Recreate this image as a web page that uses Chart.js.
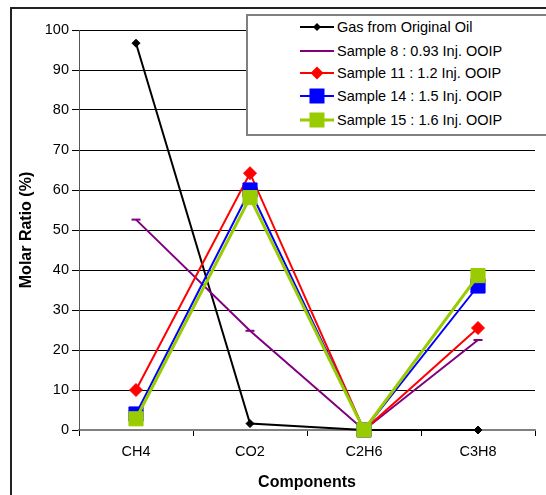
<!DOCTYPE html>
<html>
<head>
<meta charset="utf-8">
<script src="https://cdn.jsdelivr.net/npm/chart.js@4/dist/chart.umd.min.js"></script>
<style>
  html, body { margin: 0; padding: 0; background: #fff; overflow: hidden; }
  #wrap { position: relative; width: 546px; height: 495px; overflow: hidden; }
  #frame { position: absolute; left: 10px; top: 7px; width: 600px; height: 600px; border-left: 2px solid #222; border-top: 2px solid #222; box-sizing: border-box; }
  canvas { position: absolute; left: 0; top: 0; }
  #legend { position: absolute; left: 246px; top: 14px; width: 320px; height: 122px; border: 2px solid #808080; background: #fff; box-sizing: border-box; font-family: "Liberation Sans", Arial, sans-serif; font-size: 14.5px; color: #000; }
  .row { position: absolute; left: 52px; height: 18px; display: flex; align-items: center; white-space: nowrap; }
  .row svg { margin-right: 3px; flex: none; }
</style>
</head>
<body>
<div id="wrap">
  <div id="frame"></div>
  <canvas id="c" width="546" height="495"></canvas>
  <div id="legend"></div>
</div>
<script>
const categories = ["CH4", "CO2", "C2H6", "C3H8"];
const seriesNames = [
  "Gas from Original Oil",
  "Sample 8 : 0.93 Inj. OOIP",
  "Sample 11 : 1.2 Inj. OOIP",
  "Sample 14 : 1.5 Inj. OOIP",
  "Sample 15 : 1.6 Inj. OOIP"
];
const gasOriginal = [96.7, 1.6, 0, 0];
const sample8 = [52.6, 24.8, 0, 22.5];
const sample11 = [10, 64.2, 0, 25.5];
const sample14 = [4, 60, 0, 36];
const sample15 = [2.8, 58.1, 0, 38.6];
const yTicks = [0, 10, 20, 30, 40, 50, 60, 70, 80, 90, 100];

const styles = [
  { color: "#000000", width: 2, point: "rectRot", radius: 4 },
  { color: "#800080", width: 2, point: "line", radius: 4.5 },
  { color: "#FF0000", width: 2, point: "rectRot", radius: 6.5 },
  { color: "#0000FF", width: 2, point: "rect", radius: 10 },
  { color: "#99CC00", width: 3, point: "rect", radius: 10 }
];
const allData = [gasOriginal, sample8, sample11, sample14, sample15];

const datasets = allData.map((d, i) => ({
  label: seriesNames[i],
  data: d,
  borderColor: styles[i].color,
  backgroundColor: styles[i].color,
  borderWidth: styles[i].width,
  pointStyle: styles[i].point,
  pointRadius: styles[i].radius,
  pointHoverRadius: styles[i].radius,
  pointBorderWidth: styles[i].point === "line" ? 2 : 1,
  pointBorderColor: styles[i].color,
  pointBackgroundColor: styles[i].color,
  tension: 0,
  order: 4 - i,
  clip: false
}));

const fam = "'Liberation Sans', Arial, sans-serif";
const font = { family: fam, size: 14.5 };

new Chart(document.getElementById("c"), {
  type: "line",
  data: { labels: categories, datasets },
  options: {
    responsive: false,
    animation: false,
    events: [],
    layout: { padding: { left: 13, right: 11, top: 30, bottom: 0 } },
    plugins: { legend: { display: false }, tooltip: { enabled: false } },
    scales: {
      x: {
        offset: true,
        grid: { offset: true, drawOnChartArea: false, drawTicks: true, tickLength: 6, color: "#000", lineWidth: 1 },
        border: { color: "#808080", width: 2 },
        ticks: { font, color: "#000", padding: 7, maxRotation: 0 },
        title: { display: true, text: "Components", font: { family: fam, size: 16, weight: "bold" }, color: "#000", padding: { top: 4, bottom: 3 } },
        afterFit: s => { s.height = 65; }
      },
      y: {
        min: 0, max: 100,
        afterBuildTicks: s => { s.ticks = yTicks.map(v => ({ value: v })); },
        grid: {
          color: ctx => (ctx.tick && ctx.tick.value === 0) ? "rgba(0,0,0,0)" : "#000",
          lineWidth: 1, tickLength: 7, drawTicks: true,
          tickColor: "#000"
        },
        border: { color: "#555", width: 1 },
        ticks: { font, color: "#000", padding: 3, stepSize: 10 },
        title: { display: true, text: "Molar Ratio (%)", font: { family: fam, size: 16, weight: "bold" }, color: "#000", padding: { top: 4, bottom: 4 } },
        afterFit: s => { s.width = 66; }
      }
    }
  }
});

// HTML legend
const leg = document.getElementById("legend");
const rowTops = [2, 26, 48, 71, 95];
seriesNames.forEach((name, i) => {
  const st = styles[i];
  const row = document.createElement("div");
  row.className = "row";
  row.style.top = rowTops[i] + "px";
  let marker = "";
  const cx = 17, cy = 9;
  if (st.point === "rectRot") {
    const r = st.radius;
    marker = `<polygon points="${cx - r},${cy} ${cx},${cy - r} ${cx + r},${cy} ${cx},${cy + r}" fill="${st.color}"/>`;
  } else if (st.point === "rect") {
    marker = `<rect x="${cx - 7.5}" y="${cy - 7.5}" width="15" height="15" fill="${st.color}"/>`;
  } else if (st.point === "line") {
    marker = `<line x1="${cx - 4}" y1="${cy}" x2="${cx + 4}" y2="${cy}" stroke="${st.color}" stroke-width="2"/>`;
  }
  row.innerHTML = `<svg width="34" height="18"><line x1="0" y1="${cy}" x2="34" y2="${cy}" stroke="${st.color}" stroke-width="${st.width}"/>${marker}</svg><span>${name}</span>`;
  leg.appendChild(row);
});
</script>
</body>
</html>
